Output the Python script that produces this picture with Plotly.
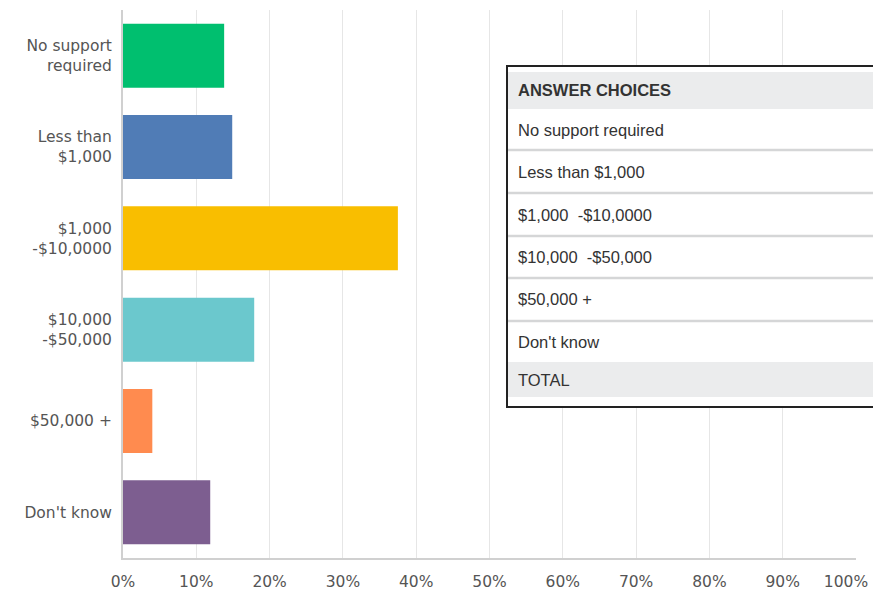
import plotly.graph_objects as go

categories = ["No support<br>required", "Less than<br>$1,000", "$1,000<br>-$10,0000",
              "$10,000<br>-$50,000", "$50,000 +", "Don't know"]
values = [13.8, 14.9, 37.5, 17.9, 4.0, 11.9]
colors = ["#00bf6f", "#507cb6", "#f9be00", "#6bc8cd", "#ff8b4f", "#7d5e90"]
x_ticks = [0, 10, 20, 30, 40, 50, 60, 70, 80, 90, 100]
x_tick_labels = [f"{t}%" for t in x_ticks]

table_header = "ANSWER CHOICES"
table_rows = ["No support required", "Less than $1,000", "$1,000  -$10,0000",
              "$10,000  -$50,000", "$50,000 +", "Don't know"]
table_total = "TOTAL"

W, H = 873, 591
ML, MR, MT, MB = 123, 17, 10, 33
PW, PH = W - ML - MR, H - MT - MB

def px(x):
    return (x - ML) / PW

def py(y):
    return (H - MB - y) / PH

fig = go.Figure(go.Bar(
    y=categories, x=values, orientation="h",
    marker=dict(color=colors, line=dict(width=0)),
    width=0.7, hoverinfo="x+y",
))
# empty helper trace so the overlaid axis (carrying the last tick label) is drawn
fig.add_trace(go.Scatter(x=[], y=[], xaxis="x2", yaxis="y", showlegend=False, hoverinfo="skip"))

TFONT = dict(family="Liberation Sans, Arial", size=16.5, color="#333")
shapes = []
annotations = []
# table box
tx0, tx1, ty0, ty1 = 507, 900, 66, 407
shapes.append(dict(type="rect", xref="paper", yref="paper", layer="above",
                   x0=px(tx0), x1=px(tx1), y0=py(ty1), y1=py(ty0),
                   fillcolor="white", line=dict(color="#222", width=2)))
# header bg
shapes.append(dict(type="rect", xref="paper", yref="paper", layer="above",
                   x0=px(tx0 + 1), x1=px(tx1), y0=py(109), y1=py(72),
                   fillcolor="#ebeced", line=dict(width=0)))
# total bg
shapes.append(dict(type="rect", xref="paper", yref="paper", layer="above",
                   x0=px(tx0 + 1), x1=px(tx1), y0=py(397), y1=py(362),
                   fillcolor="#ebeced", line=dict(width=0)))
row_tops = [109, 150, 193, 236, 278, 321]
row_bottoms = [150, 193, 236, 278, 321, 362]
for i, lab in enumerate(table_rows):
    if i > 0:
        shapes.append(dict(type="line", xref="paper", yref="paper", layer="above",
                           x0=px(tx0 + 1), x1=px(tx1), y0=py(row_tops[i]), y1=py(row_tops[i]),
                           line=dict(color="#d5d6d7", width=2.5)))
    yc = (row_tops[i] + row_bottoms[i]) / 2
    annotations.append(dict(xref="paper", yref="paper", x=px(516), y=py(yc),
                            xanchor="left", yanchor="middle", showarrow=False, text=lab,
                            font=TFONT))
annotations.append(dict(xref="paper", yref="paper", x=px(516), y=py(90.5),
                        xanchor="left", yanchor="middle", showarrow=False,
                        text=f"<b>{table_header}</b>", font=TFONT))
annotations.append(dict(xref="paper", yref="paper", x=px(516), y=py(379.5),
                        xanchor="left", yanchor="middle", showarrow=False, text=table_total,
                        font=TFONT))

AFONT = dict(family="DejaVu Sans, sans-serif", size=15.5, color="#555")
fig.update_layout(
    width=W, height=H,
    margin=dict(l=ML, r=MR, t=MT, b=MB),
    plot_bgcolor="white", paper_bgcolor="white",
    showlegend=False,
    font=AFONT,
    xaxis=dict(range=[0, 100], tickvals=x_ticks, ticktext=x_tick_labels[:-1] + [""],
               showgrid=True, gridcolor="#e6e6e6", gridwidth=1,
               showline=True, linecolor="#d0d0d0", linewidth=2,
               zeroline=False, ticks="", ticklabelstandoff=8,
               tickfont=AFONT, fixedrange=True, automargin=False),
    xaxis2=dict(range=[0, 100], overlaying="x", anchor="y", side="bottom",
                tickvals=x_ticks[-1:], ticktext=x_tick_labels[-1:],
                ticklabelshift=-10, ticklabelstandoff=8,
                showgrid=False, showline=True, linecolor="rgba(0,0,0,0)", linewidth=2,
                zeroline=False, ticks="",
                tickfont=AFONT, fixedrange=True, automargin=False,
                ticklabeloverflow="allow"),
    yaxis=dict(autorange="reversed", showgrid=False, zeroline=False,
               showline=True, linecolor="#d0d0d0", linewidth=2,
               ticks="", ticklabelstandoff=6,
               tickfont=AFONT, fixedrange=True, automargin=False),
    shapes=shapes, annotations=annotations,
)

fig.write_html("out.html", config={"displayModeBar": False},
               post_script="document.body.style.margin='0px';document.body.style.overflow='hidden';")
